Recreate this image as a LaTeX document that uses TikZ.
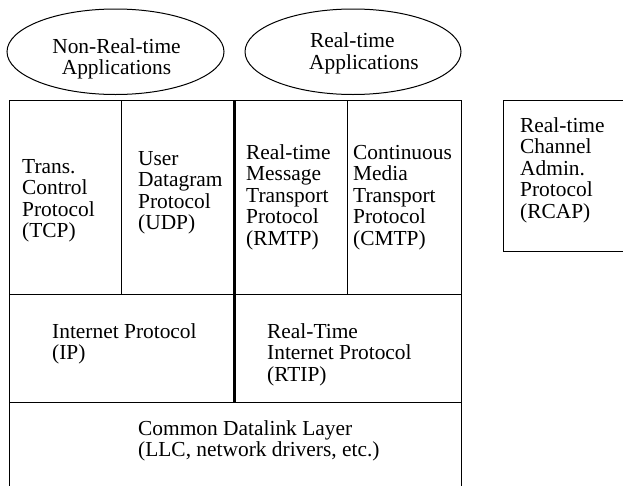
\documentclass[tikz,border=0pt]{standalone}
\usepackage{fontspec}
\setmainfont{Liberation Serif}
\usetikzlibrary{shapes.geometric}
\tikzset{
  lbl/.style={anchor=base west, inner sep=0pt, align=left, font=\fontsize{21.4}{21.6}\selectfont},
  lblc/.style={anchor=base, inner sep=0pt, align=center, font=\fontsize{21.4}{21.6}\selectfont},
  app/.style={ellipse, draw, line width=1pt, inner sep=0pt},
  thin/.style={line width=1pt},
  thick/.style={line width=3pt}
}
\begin{document}
\begin{tikzpicture}[x=1pt,y=-1pt]
\useasboundingbox (0,0) rectangle (623,485);
% application ellipses
\node[app, minimum width=217pt, minimum height=85.5pt] (nrtapp) at (115.5,51.75) {};
\node[app, minimum width=216pt, minimum height=85.5pt] (rtapp) at (353,51.75) {};
% (nodes below are anchored at the baseline of their last line)
\node[lblc] (nrttext) at (116.5,74.6) {Non-Real-time\\Applications};
\node[lbl] (rttext) at (309,69.3) {\hspace*{1pt}Real-time\\Applications};
% protocol stack frame
\draw[thin] (9,100) rectangle (461,492);
\draw[thin] (121,100) -- (121,294);
\draw[thin] (347,100) -- (347,294);
\draw[thin] (9,294) -- (461,294);
\draw[thin] (9,402) -- (461,402);
\draw[thick] (234,100) -- (234,402);
% RCAP box
\draw[thin] (503,100) rectangle (630,251);
% texts
\node[lbl] (tcp) at (22,237.8) {Trans.\\Control\\Protocol\\(TCP)};
\node[lbl] (udp) at (138,229.8) {User\\Datagram\\Protocol\\(UDP)};
\node[lbl] (rmtp) at (246,245.4) {Real-time\\Message\\Transport\\Protocol\\(RMTP)};
\node[lbl] (cmtp) at (353,245.4) {Continuous\\Media\\Transport\\Protocol\\(CMTP)};
\node[lbl] (ip) at (52,359.6) {Internet Protocol\\(IP)};
\node[lbl] (rtip) at (267,381.2) {Real-Time\\Internet Protocol\\(RTIP)};
\node[lbl] (dll) at (138,456.6) {Common Datalink Layer\\(LLC, network drivers, etc.)};
\node[lbl] (rcap) at (520,218.4) {Real-time\\Channel\\Admin.\\Protocol\\(RCAP)};
\end{tikzpicture}
\end{document}
